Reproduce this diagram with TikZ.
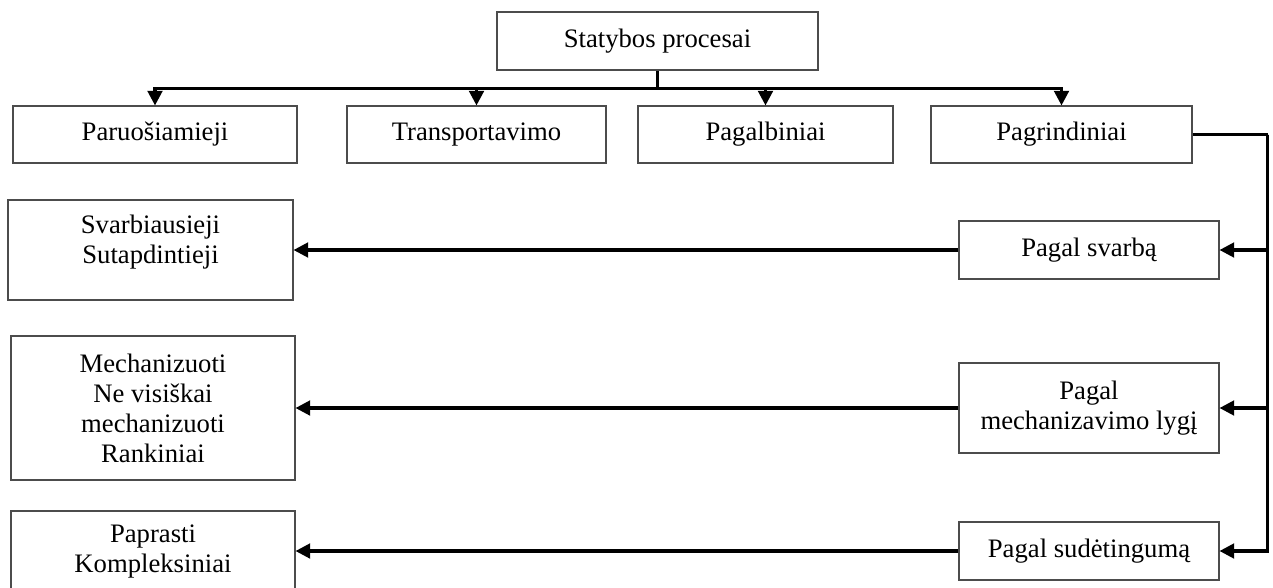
\documentclass[tikz,border=0pt]{standalone}
\usepackage{fontspec}
\setmainfont{Liberation Serif}
\usetikzlibrary{arrows.meta}
\begin{document}
\begin{tikzpicture}[x=0.75pt,y=-0.75pt,
  box/.style={draw=black!70, line width=0.8pt, inner sep=0pt, align=center,
    font=\fontsize{20}{22.5}\selectfont},
  lbl/.style={inner sep=0pt, align=center, font=\fontsize{20}{22.5}\selectfont},
  conn/.style={line width=2.3pt, black},
  arr/.style={conn, -{Triangle[width=11pt,length=11pt]}}]
\useasboundingbox (0,0) rectangle (1273,587);

% root
\node[box, minimum width=240.75pt, minimum height=43.5pt] (top) at (657.5,41) {Statybos procesai};

% first level
\node[box, minimum width=213pt,    minimum height=42.75pt] (p1) at (155,134.5)    {Paruošiamieji};
\node[box, minimum width=194.25pt, minimum height=42.75pt] (p2) at (476.5,134.5)  {Transportavimo};
\node[box, minimum width=191.25pt, minimum height=42.75pt] (p3) at (765.5,134.5)  {Pagalbiniai};
\node[box, minimum width=195.75pt, minimum height=42.75pt] (p4) at (1061.5,134.5) {Pagrindiniai};

% classification criteria
\node[box, minimum width=195pt, minimum height=43.5pt] (g1) at (1089,250) {Pagal svarbą};
\node[box, minimum width=195pt, minimum height=67.5pt] (g2) at (1089,408) {Pagal\\mechanizavimo lygį};
\node[box, minimum width=195pt, minimum height=43.5pt] (g3) at (1089,551) {Pagal sudėtingumą};

% resulting kinds
\node[box, minimum width=213.75pt, minimum height=75pt] (s1) at (150.5,250) {};
\node[lbl] (s1t) at ([yshift=6pt]s1.center) {Svarbiausieji\\Sutapdintieji};
\node[box, minimum width=213pt, minimum height=108pt] (s2) at (153,408)
  {Mechanizuoti\\Ne visiškai\\mechanizuoti\\Rankiniai};
\node[box, minimum width=213pt, minimum height=60pt] (s3) at (153,551)
  {Paprasti\\Kompleksiniai};

% top bus
\draw[conn] (top.south) -- ++(0,18) coordinate (bus);
\draw[arr] (bus) -| (p1.north);
\draw[arr] (bus) -| (p2.north);
\draw[arr] (bus) -| (p3.north);
\draw[arr] (bus) -| (p4.north);

% right bus
\draw[conn] (p4.east) -- ++(75,0) coordinate (rbus);
\draw[arr] (rbus) |- (g1.east);
\draw[arr] (rbus) |- (g2.east);
\draw[arr] (rbus) |- (g3.east);

% criteria to kinds
\draw[arr] (g1.west) -- (s1.east);
\draw[arr] (g2.west) -- (s2.east);
\draw[arr] (g3.west) -- (s3.east);
\end{tikzpicture}
\end{document}
